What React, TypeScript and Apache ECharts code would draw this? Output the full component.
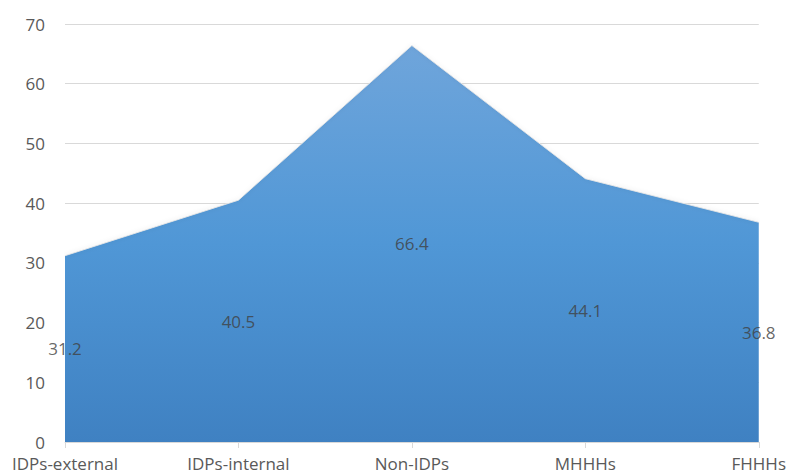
import React, { useEffect, useRef } from "react";
import * as echarts from "echarts";

const categories = ["IDPs-external", "IDPs-internal", "Non-IDPs", "MHHHs", "FHHHs"];
const values = [31.2, 40.5, 66.4, 44.1, 36.8];
const yTicks = { min: 0, max: 70, interval: 10 };

export default function App() {
  const ref = useRef<HTMLDivElement>(null);
  useEffect(() => {
    const chart = echarts.init(ref.current!, null, { renderer: "svg" });
    const font = "'Open Sans', 'Liberation Sans', sans-serif";
    chart.setOption({
      animation: false,
      grid: { left: 65, right: 29, top: 24, bottom: 34, containLabel: false },
      xAxis: {
        type: "category",
        data: categories,
        boundaryGap: false,
        axisLine: { lineStyle: { color: "#d9d9d9", width: 1 } },
        axisTick: { show: true, length: 6, lineStyle: { color: "#d9d9d9" }, alignWithLabel: true },
        axisLabel: { color: "#595959", fontSize: 17, fontFamily: font, margin: 13, interval: 0 },
        splitLine: { show: false },
      },
      yAxis: {
        type: "value",
        min: yTicks.min,
        max: yTicks.max,
        interval: yTicks.interval,
        axisLine: { show: false },
        axisTick: { show: false },
        axisLabel: { color: "#595959", fontSize: 17, fontFamily: font, margin: 20 },
        splitLine: { lineStyle: { color: "#d9d9d9", width: 1 } },
      },
      series: [
        {
          type: "line",
          data: values,
          symbol: "none",
          lineStyle: { width: 1, color: "rgba(230,230,230,0.9)", shadowColor: "rgba(0,0,0,0.15)", shadowBlur: 4 },
          areaStyle: {
            opacity: 1,
            color: new echarts.graphic.LinearGradient(0, 0, 0, 1, [
              { offset: 0, color: "#6fa5db" },
              { offset: 0.5, color: "#5097d6" },
              { offset: 1, color: "#3f81c2" },
            ]),
          },
          z: 2,
        },
        {
          type: "scatter",
          data: values.map((v, i) => [i, v / 2, v]),
          symbolSize: 0,
          silent: true,
          z: 5,
          label: {
            show: true,
            position: "inside",
            formatter: (p: any) => String(p.value[2]),
            color: "#404040",
            fontSize: 17,
            fontFamily: font,
          },
        },
      ],
    });
    return () => chart.dispose();
  }, []);
  return <div ref={ref} style={{ width: 789, height: 476, position: "absolute", left: 0, top: 0 }} />;
}
